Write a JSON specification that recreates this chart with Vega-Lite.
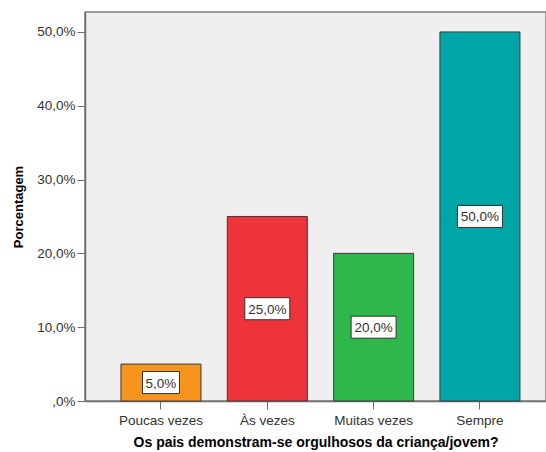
{
  "$schema": "https://vega.github.io/schema/vega-lite/v6.json",
  "width": 461,
  "height": 389,
  "autosize": {"type": "none"},
  "padding": {"left": 85, "top": 12, "right": 0, "bottom": 51},
  "background": "white",
  "config": {
    "font": "Liberation Sans",
    "view": {"fill": "#efefef", "stroke": "#808080", "strokeWidth": 1.5},
    "axis": {"grid": false, "domainColor": "#6e6e6e", "tickColor": "#6e6e6e", "labelColor": "#333333", "labelFontSize": 13.5, "titleFontSize": 13.5, "titleColor": "#000000", "titleFontWeight": "bold", "domainWidth": 1.5}
  },
  "data": {
    "values": [
      {"cat": "Poucas vezes", "pct": 5, "label": "5,0%"},
      {"cat": "Às vezes", "pct": 25, "label": "25,0%"},
      {"cat": "Muitas vezes", "pct": 20, "label": "20,0%"},
      {"cat": "Sempre", "pct": 50, "label": "50,0%"}
    ]
  },
  "transform": [{"calculate": "datum.pct / 2", "as": "mid"}],
  "encoding": {
    "x": {
      "field": "cat", "type": "nominal",
      "sort": ["Poucas vezes", "Às vezes", "Muitas vezes", "Sempre"],
      "scale": {"paddingInner": 0.2474, "paddingOuter": 0.2916, "align": 0.58},
      "axis": {"title": "Os pais demonstram-se orgulhosos da criança/jovem?", "titleFontSize": 14, "labelAngle": 0, "tickSize": 8, "labelPadding": 4, "titlePadding": 9}
    }
  },
  "layer": [
    {
      "mark": {"type": "bar", "stroke": "#3a3a3a", "strokeWidth": 1},
      "encoding": {
        "y": {
          "field": "pct", "type": "quantitative",
          "scale": {"domain": [0, 52.7], "nice": false},
          "axis": {"title": "Porcentagem", "titleFontSize": 13, "values": [0, 10, 20, 30, 40, 50], "tickSize": 8, "labelPadding": 2, "titlePadding": 11,
                   "labelExpr": "datum.value == 0 ? ',0%' : replace(format(datum.value, '.1f'), '.', ',') + '%'"}
        },
        "color": {
          "field": "cat", "type": "nominal", "legend": null,
          "scale": {"domain": ["Poucas vezes", "Às vezes", "Muitas vezes", "Sempre"], "range": ["#f7941e", "#ef333b", "#2eb84b", "#00a6a6"]}
        }
      }
    },
    {
      "mark": {"type": "point", "filled": true, "fill": "white", "stroke": "#333333", "strokeWidth": 1, "opacity": 1, "size": 2025},
      "encoding": {
        "y": {"field": "mid", "type": "quantitative"},
        "shape": {
          "field": "label", "type": "nominal", "legend": null,
          "scale": {"domain": ["5,0%", "25,0%", "20,0%", "50,0%"],
                    "range": ["M-0.822,-0.489H0.822V0.489H-0.822Z", "M-1,-0.489H1V0.489H-1Z", "M-1,-0.489H1V0.489H-1Z", "M-1,-0.489H1V0.489H-1Z"]}
        }
      }
    },
    {
      "mark": {"type": "text", "fontSize": 13.5, "color": "#333333", "baseline": "middle", "align": "center", "dy": 1},
      "encoding": {
        "y": {"field": "mid", "type": "quantitative"},
        "text": {"field": "label"}
      }
    }
  ]
}
